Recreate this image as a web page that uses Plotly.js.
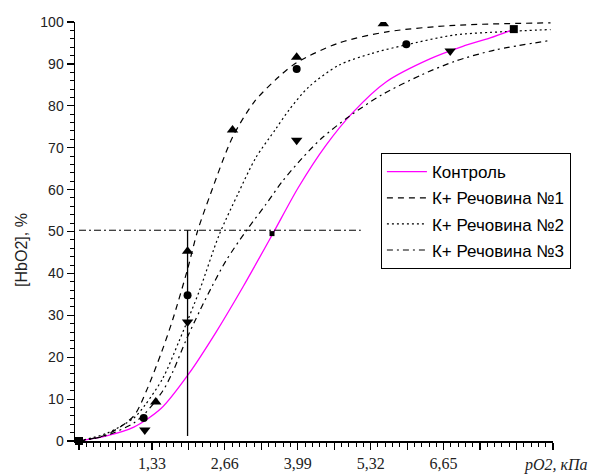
<!DOCTYPE html>
<html>
<head>
<meta charset="utf-8">
<script src="https://cdn.plot.ly/plotly-3.0.1.min.js"></script>
<style>html,body{margin:0;padding:0;background:#fff;}#chart{width:593px;height:474px;}</style>
</head>
<body>
<div id="chart"></div>
<script>
// Fitted curves
const ctrlX = [0,0.5,1.0,1.5,2.0,2.5,3.0,3.54,4.0,4.5,5.0,5.6,6.4,7.0,7.5,7.94];
const ctrlY = [0,1.2,3.3,7.8,16,26,37,49.6,60.5,70.5,78.5,85.7,91.2,94.2,96.2,98.3];
const s1X = [0,0.5,1.0,1.23,1.5,1.71,1.98,2.16,2.4,2.8,3.2,3.65,3.97,4.74,5.64,6.85,8.6];
const s1Y = [0,1.5,6,12,21,29,41,50,59,72.5,81,87,90.3,95,97.7,99.2,99.8];
const s2X = [0,0.5,1.0,1.2,1.53,1.83,2.2,2.55,2.9,3.22,3.59,3.83,4.19,4.74,5.34,5.95,6.85,7.76,8.6];
const s2Y = [0,1.8,5.5,8.5,15,24,36,49,59,67.5,74.5,79,84.5,89.7,92.5,94.5,96.9,97.7,98.2];
const s3X = [0,0.5,1.0,1.2,1.53,1.71,1.95,2.2,2.43,2.68,3.04,3.41,3.71,4.07,4.43,4.92,5.52,6.25,6.85,7.58,8.6];
const s3Y = [0,1.3,4.3,6.5,12,16.5,24,31,37,43,50,56.5,62,67.5,72.3,77.4,82.6,87.4,90.6,93.3,95.6];

// Measured points
const p1X = [1.40,1.98,2.80,3.97,5.55];
const p1Y = [9.3,45.3,74.2,91.6,99.6];
const p2X = [1.18,1.98,3.97,5.97];
const p2Y = [5.5,34.8,88.8,94.7];
const p3X = [1.20,1.98,3.97,6.77];
const p3Y = [2.6,28.4,71.8,93.1];
const pcX = [0,7.93];
const pcY = [0,98.3];
const pmX = [3.52];
const pmY = [49.5];

// Reference lines (P50)
const hLineX = [0,5.14];
const hLineY = [50.3,50.3];
const vLineX = [1.98,1.98];
const vLineY = [1.2,50.3];

// Ticks
const xTickVals = [0,0.665,1.33,1.995,2.66,3.325,3.99,4.655,5.32,5.985,6.65,7.315,7.98,8.645];
const xTickText = ['','','1,33','','2,66','','3,99','','5,32','','6,65','','',''];
const yTickVals = [0,10,20,30,40,50,60,70,80,90,100];

const names = ['Контроль','К+ Речовина №1','К+ Речовина №2','К+ Речовина №3'];

const traces = [
  {x: ctrlX, y: ctrlY, name: names[0], legendgroup:'a', mode:'lines', line:{color:'#ff00ff', width:1.3, shape:'spline', smoothing:0.8}},
  {x: s1X, y: s1Y, name: names[1], legendgroup:'b', mode:'lines', line:{color:'#000', width:1.2, dash:'6px,5px', shape:'spline', smoothing:0.8}},
  {x: s2X, y: s2Y, name: names[2], legendgroup:'c', mode:'lines', line:{color:'#000', width:1.2, dash:'2px,3px', shape:'spline', smoothing:0.8}},
  {x: s3X, y: s3Y, name: names[3], legendgroup:'d', mode:'lines', line:{color:'#000', width:1.2, dash:'6px,4px,2px,4px', shape:'spline', smoothing:0.8}},
  {x: hLineX, y: hLineY, mode:'lines', showlegend:false, line:{color:'#000', width:1, dash:'7px,3px,2px,3px'}},
  {x: vLineX, y: vLineY, mode:'lines', showlegend:false, line:{color:'#000', width:1.3}},
  {x: p1X, y: p1Y, mode:'markers', showlegend:false, marker:{symbol:'triangle-up', size:10, color:'#000'}},
  {x: p2X, y: p2Y, mode:'markers', showlegend:false, marker:{symbol:'circle', size:8, color:'#000'}},
  {x: p3X, y: p3Y, mode:'markers', showlegend:false, marker:{symbol:'triangle-down', size:10, color:'#000'}},
  {x: pcX, y: pcY, mode:'markers', showlegend:false, cliponaxis:false, marker:{symbol:'square', size:8, color:'#000', line:{width:0}}},
  {x: pmX, y: pmY, mode:'markers', showlegend:false, marker:{symbol:'square', size:5, color:'#000', line:{width:0}}}
];

const layout = {
  width: 593, height: 474,
  margin: {l:75, r:40, t:22, b:33, pad:0},
  paper_bgcolor:'#fff', plot_bgcolor:'#fff',
  showlegend: true,
  legend: {x:0.64, y:0.687, xanchor:'left', yanchor:'top', bgcolor:'#fff', bordercolor:'#000', borderwidth:1,
           font:{family:'Liberation Sans, Arial', size:17, color:'#000'}, traceorder:'grouped', tracegroupgap:1, itemwidth:40},
  xaxis: {range:[-0.073, 8.645], showgrid:false, zeroline:false, showline:true, linecolor:'#000', linewidth:1.5,
          tickmode:'array', tickvals:xTickVals, ticktext:xTickText, ticks:'outside', ticklen:7, tickwidth:1.2, tickcolor:'#000',
          tickfont:{family:'Liberation Serif, Times New Roman', size:16, color:'#222'},
          minor:{tickmode:'linear', tick0:0, dtick:0.133, ticks:'outside', ticklen:4, tickwidth:1, tickcolor:'#000'}},
  yaxis: {range:[0,100], showgrid:false, zeroline:false, showline:true, linecolor:'#000', linewidth:1.5,
          tickmode:'array', tickvals:yTickVals, ticks:'outside', ticklen:7, tickwidth:1.2, tickcolor:'#000',
          tickfont:{family:'Liberation Sans, Arial', size:14, color:'#222'},
          minor:{tickmode:'linear', tick0:0, dtick:2, ticks:'outside', ticklen:4, tickwidth:1, tickcolor:'#000'}},
  annotations: [
    {text:'<i>pO2, кПа</i>', xref:'paper', yref:'paper', x:1.077, y:-0.057, xanchor:'right', yanchor:'middle', showarrow:false,
     font:{family:'Liberation Serif, Times New Roman', size:16, color:'#222'}},
    {text:'[HbO2], %', xref:'paper', yref:'paper', x:-0.111, y:0.456, xanchor:'center', yanchor:'middle', textangle:-90, showarrow:false,
     font:{family:'Liberation Sans, Arial', size:16, color:'#222'}}
  ]
};

Plotly.newPlot('chart', traces, layout, {displayModeBar:false, staticPlot:true});
</script>
</body>
</html>
